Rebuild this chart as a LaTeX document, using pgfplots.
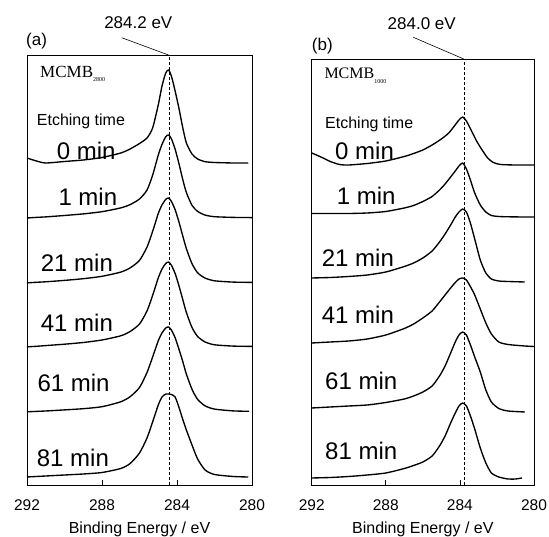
\documentclass[border=0pt]{standalone}
\usepackage{pgfplots}
\pgfplotsset{compat=1.18}
\usepackage{fontspec}
\setmainfont{Liberation Sans}
\newfontfamily\seriffont{Liberation Serif}
\begin{document}
\begin{tikzpicture}[x=1pt,y=1pt]
\useasboundingbox (0,0) rectangle (549,537);
\pgfplotsset{
 xpsbase/.style={scale only axis, anchor=south west, xmin=280, xmax=292, x dir=reverse, ymin=0,
   xtick={280,284,288,292}, ytick=\empty, tick align=inside, major tick length=5pt, xtick pos=bottom,
   axis line style={line width=0.7pt}, every tick/.style={line width=0.7pt, black},
   /pgf/number format/assume math mode=true,
   xticklabel style={font=\fontsize{15.5}{16}\selectfont, anchor=base, yshift=-26pt},
   xlabel={Binding Energy / eV},
   xlabel style={font=\fontsize{16}{16}\selectfont, at={(axis description cs:0.5,0)}, anchor=base, yshift=-49pt},
   cycle list={{black, solid}},
   clip=false},
 spec/.style={black, solid, line width=1.35pt, mark=none, line join=round, smooth, tension=0.4},
 ref/.style={black, sharp plot, line width=0.7pt, dash pattern=on 3pt off 2pt, mark=none}
}
% ---------------- panel (a) ----------------
\begin{axis}[xpsbase, at={(27pt,52pt)}, width=225pt, height=430pt, ymax=430]
\addplot[ref] coordinates {(284.43,0) (284.43,430)};
% 0 min
\addplot[spec] coordinates {(292,327)(291.5,324)(291,322)(290,323.5)(289,325)(288,327.5)(287,332)(286.5,336)(286,341.5)(285.6,347)(285.3,357)(285,380)(284.8,399)(284.6,412)(284.45,415)(284.3,409)(284.1,394)(283.9,377)(283.7,358)(283.5,342)(283.2,331)(282.9,326)(282.5,323.3)(282,322.5)(281,322)(280.2,322)};
% 1 min
\addplot[spec] coordinates {(292,267)(291.5,267.6)(291,268.1)(290,269.5)(289,271.1)(288,273.3)(287,277.1)(286.5,280.4)(286,286)(285.6,294.9)(285.3,309.8)(285,329.8)(284.8,340.6)(284.6,348.3)(284.45,350)(284.3,346.3)(284.1,335.8)(283.9,321.7)(283.7,306)(283.5,292.5)(283.2,279.7)(282.9,273.6)(282.5,269.9)(282,268.3)(281,267.6)(280,267.4)};
% 21 min
\addplot[spec] coordinates {(292,202.1)(291.5,202.7)(291,203.2)(290,204.6)(289,206.3)(288,208.7)(287,212.9)(286.5,217.1)(286,224.6)(285.6,237.9)(285.3,253.5)(285,271.4)(284.8,280.1)(284.6,285.6)(284.45,287)(284.3,283.6)(284.1,275.3)(283.9,263.3)(283.7,249.6)(283.5,236.4)(283.2,221.3)(282.9,212.2)(282.5,206.9)(282,204.2)(281,202.9)(280,202.6)};
% 41 min
\addplot[spec] coordinates {(292,138.1)(291.5,138.7)(291,139.4)(290,140.8)(289,142.5)(288,145)(287,149.2)(286.5,153.5)(286,161)(285.6,174)(285.3,189.5)(285,207)(284.8,216)(284.6,221.5)(284.45,223)(284.3,219.8)(284.1,211.5)(283.9,199.5)(283.7,186)(283.5,172.5)(283.2,157.5)(282.9,148.5)(282.5,143)(282,140.2)(281,138.9)(280,138.6)};
% 61 min
\addplot[spec] coordinates {(292,73.2)(291.5,73.6)(291,74.0)(290,75.1)(289,76.3)(288,78.3)(287,83.2)(286.5,88.3)(286,97.5)(285.6,112.5)(285.3,128)(285,144.1)(284.8,152.1)(284.6,157)(284.45,158)(284.3,155)(284.1,147.3)(283.9,136)(283.7,124)(283.5,110.9)(283.2,95.7)(282.9,85.6)(282.5,79.1)(282,75.9)(281,74.1)(280.15,73.7)};
% 81 min
\addplot[spec] coordinates {(292,8)(291.5,8.5)(291,9)(290,10)(289,11)(288,12.5)(287,16.5)(286.5,21.5)(286,32)(285.6,47)(285.3,63)(285,80)(284.8,88)(284.6,91)(284.45,91)(284.3,90.5)(284.1,88)(283.9,78)(283.7,66)(283.5,55)(283.2,40)(282.9,26)(282.5,15)(282,10.5)(281,8.5)(280.2,8)};
\end{axis}
% ---------------- panel (b) ----------------
\begin{axis}[xpsbase, at={(311.7pt,52pt)}, width=222.3pt, height=426pt, ymax=426]
\addplot[ref] coordinates {(283.78,0) (283.78,426)};
% 0 min
\addplot[spec] coordinates {(292,332)(291.5,328)(291,323.5)(290.5,320.5)(290,320)(289,321.5)(288,324)(287,328.5)(286.5,331.5)(286,335)(285.5,340)(285,346)(284.6,352)(284.3,359)(284.05,365)(283.85,368)(283.65,364)(283.4,355)(283.1,344)(282.8,335)(282.5,327)(282.2,322.5)(281.8,320.5)(281,320)(280,320)};
% 1 min
\addplot[spec] coordinates {(292,271.5)(291,271.5)(290,271.5)(289,272)(288,273.5)(287,277)(286.5,279.5)(286,283.5)(285.5,288.5)(285.1,295)(284.8,301)(284.5,308)(284.25,314)(284.05,319)(283.85,322)(283.65,316)(283.45,306)(283.2,292)(282.9,280)(282.6,273)(282.3,269.5)(281.9,268.5)(281.4,268.2)(280.5,268)(280,268)};
% 21 min
\addplot[spec] coordinates {(292,207)(291,207.5)(290,208.5)(289,210)(288,213)(287,218.5)(286.5,222)(286,227)(285.5,234)(285.1,243)(284.8,251)(284.5,260)(284.25,268)(284.05,273)(283.85,276)(283.65,273)(283.45,263)(283.2,246)(282.9,225)(282.6,212)(282.3,206)(281.9,204)(281.4,203.5)(280.5,203)};
% 41 min
\addplot[spec] coordinates {(292,142)(291,143)(290,144)(289,146)(288,150)(287,156.5)(286.5,161)(286,167)(285.5,174)(285.1,183)(284.8,190)(284.5,197)(284.25,202.5)(284.05,206)(283.85,207)(283.65,205)(283.45,199)(283.2,190)(282.9,176)(282.6,162)(282.3,151)(281.9,143)(281.4,140.5)(280.5,139)(280,138.5)};
% 61 min
\addplot[spec] coordinates {(292,77)(291,78)(290,79)(289,80)(288,82.5)(287,86)(286.5,89)(286,93)(285.5,99)(285.1,109)(284.8,119)(284.5,132)(284.25,143)(284.05,150)(283.85,153)(283.65,150)(283.45,141)(283.2,128)(282.9,113)(282.6,95)(282.3,83)(281.9,76.5)(281.4,74)(280.5,73)};
% 81 min
\addplot[spec] coordinates {(292,7)(291,7.5)(290,8.5)(289,10)(288,12)(287,16.5)(286.5,19.5)(286,23)(285.5,29)(285.1,39)(284.8,49)(284.5,62)(284.25,72)(284.05,79)(283.85,82)(283.65,79)(283.45,70)(283.2,56)(282.9,37)(282.6,22)(282.3,12)(281.9,8)(281.4,6)(281,6)(280.65,7)};
\end{axis}
% ---------------- annotations ----------------
\node[anchor=base, font=\fontsize{17}{17}\selectfont, inner sep=0] at (138.3,508.7) {284.2 eV};
\node[anchor=base, font=\fontsize{17}{17}\selectfont, inner sep=0] at (421.7,507.7) {284.0 eV};
\draw[line width=0.6pt] (121.7,499.3) -- (168.5,482);
\draw[line width=0.6pt] (413.3,499.7) -- (463.7,478);
\node[anchor=base west, font=\fontsize{17}{17}\selectfont, inner sep=0] at (26,491.5) {(a)};
\node[anchor=base west, font=\fontsize{17}{17}\selectfont, inner sep=0] at (311.7,486) {(b)};
\node[anchor=base west, inner sep=0] at (40,459.7) {\seriffont\fontsize{17}{17}\selectfont MCMB\raisebox{-4pt}{\fontsize{6}{6}\selectfont 2800}};
\node[anchor=base west, inner sep=0] at (324.3,458.7) {\seriffont\fontsize{16}{16}\selectfont MCMB\raisebox{-5pt}{\fontsize{6}{6}\selectfont 1000}};
\node[anchor=base west, font=\fontsize{16}{16}\selectfont, inner sep=0] at (36.7,411) {Etching time};
\node[anchor=base west, font=\fontsize{16}{16}\selectfont, inner sep=0] at (325,408) {Etching time};
\begin{scope}[every node/.style={anchor=base west, font=\fontsize{24}{24}\selectfont, inner sep=0}]
\node at (56.7,377) {0 min};
\node at (58.3,331) {1 min};
\node at (40.7,265.3) {21 min};
\node at (40.7,205.3) {41 min};
\node at (37.3,145.3) {61 min};
\node at (36.7,70.3) {81 min};
\node at (335,377) {0 min};
\node at (336.7,332) {1 min};
\node at (321.7,270.3) {21 min};
\node at (321.7,213.7) {41 min};
\node at (325,147) {61 min};
\node at (325,77) {81 min};
\end{scope}
\end{tikzpicture}
\end{document}
